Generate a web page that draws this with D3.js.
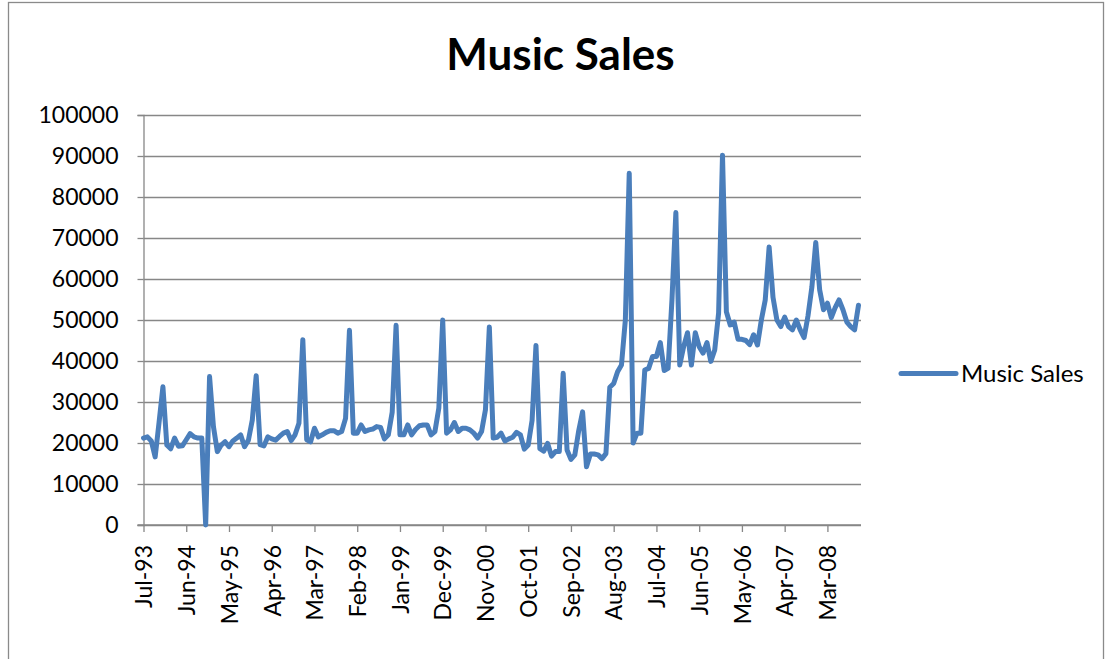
<!DOCTYPE html>
<html>
<head>
<meta charset="utf-8">
<script src="https://cdn.jsdelivr.net/npm/d3@7/dist/d3.min.js"></script>
<style>
  html, body { margin: 0; padding: 0; background: #fff; }
  svg { display: block; font-family: Lato, "Open Sans", sans-serif; }
</style>
</head>
<body>
<svg id="chart" width="1109" height="659"></svg>
<script>
// Monthly music sales, Jul 1993 – Nov 2008
const seriesName = "Music Sales";
const firstMonth = new Date(1993, 6, 1);
const lastMonth = new Date(2008, 10, 1);

const sales = [
  // 1993 (Jul–Dec)
  21200, 21500, 20500, 16600, 25000, 33700,
  // 1994
  19500, 18600, 21200, 19200, 19300, 20800, 22300, 21500, 21200, 21200, 0, 36200,
  // 1995
  24000, 17900, 19500, 20300, 19100, 20500, 21200, 22000, 19100, 20700, 25600, 36400,
  // 1996
  19600, 19300, 21500, 21000, 20700, 21600, 22400, 22800, 20600, 22000, 24800, 45200,
  // 1997
  20800, 20300, 23600, 21500, 22000, 22600, 23000, 23000, 22400, 22800, 26000, 47500,
  // 1998
  22400, 22400, 24400, 22800, 23200, 23400, 24000, 23800, 21000, 22000, 27500, 48700,
  // 1999
  22000, 22000, 24400, 22000, 23300, 24200, 24400, 24400, 22000, 22800, 28500, 50000,
  // 2000
  22400, 23200, 25000, 22800, 23600, 23600, 23200, 22400, 21200, 22800, 28100, 48300,
  // 2001
  21200, 21400, 22400, 20500, 21000, 21400, 22600, 22000, 18500, 19500, 25500, 43800,
  // 2002
  18600, 18000, 19900, 16800, 17900, 17900, 37000, 18300, 16000, 17100, 23000, 27600,
  // 2003
  14200, 17300, 17300, 17100, 16200, 17400, 33600, 34500, 37400, 39000, 50000, 85800,
  // 2004
  20000, 22400, 22400, 37800, 38200, 41100, 41100, 44500, 37700, 38200, 55000, 76200,
  // 2005
  39000, 43500, 46900, 39000, 46900, 43500, 41900, 44500, 39900, 42700, 51700, 90200,
  // 2006
  52000, 48800, 49500, 45300, 45300, 45000, 44000, 46400, 43900, 50000, 54900, 67800,
  // 2007
  55500, 50000, 48400, 50700, 48400, 47600, 50000, 47600, 45700, 51000, 58000, 68900,
  // 2008 (Jan–Nov)
  57400, 52500, 54100, 50600, 53000, 54900, 52500, 49500, 48400, 47600, 53600
];

const xTickLabels = ["Jul-93", "Jun-94", "May-95", "Apr-96", "Mar-97", "Feb-98",
  "Jan-99", "Dec-99", "Nov-00", "Oct-01", "Sep-02", "Aug-03", "Jul-04",
  "Jun-05", "May-06", "Apr-07", "Mar-08"];
const yTickValues = [0, 10000, 20000, 30000, 40000, 50000, 60000, 70000, 80000, 90000, 100000];

// Month categories, one per value
const fmt = d3.timeFormat("%b-%y");
const months = d3.timeMonth.range(firstMonth, d3.timeMonth.offset(lastMonth, 1)).map(fmt);
const data = months.map((m, i) => ({ i, month: m, value: sales[i] }));

const svg = d3.select("#chart");

// Chart area frame
svg.append("rect")
  .attr("x", 8.5).attr("y", 2.5)
  .attr("width", 1095).attr("height", 700)
  .attr("fill", "#fff")
  .attr("stroke", "#8a8a8a")
  .attr("stroke-width", 1.3);

const plot = { left: 143.5, right: 861, top: 115, bottom: 525 };

const x = d3.scaleLinear()
  .domain([0, data.length - 1])
  .range([plot.left, 858.5]);

const y = d3.scaleLinear()
  .domain([0, 100000])
  .range([plot.bottom, plot.top]);

const gridColor = "#878787";
const labelFont = "Lato, 'Open Sans', sans-serif";

// Horizontal gridlines
svg.append("g")
  .attr("transform", `translate(${plot.left},0)`)
  .call(d3.axisLeft(y).tickValues(yTickValues).tickSize(-(plot.right - plot.left)).tickFormat(""))
  .call(g => g.select(".domain").remove())
  .call(g => g.selectAll("line").attr("stroke", gridColor).attr("stroke-width", 1.3));

// Y axis with labels
svg.append("g")
  .attr("transform", `translate(${plot.left},0)`)
  .call(d3.axisLeft(y).tickValues(yTickValues).tickSize(6).tickPadding(19).tickFormat(d3.format("d")))
  .call(g => g.select(".domain").attr("stroke", gridColor).attr("stroke-width", 1.3))
  .call(g => g.selectAll("line").attr("stroke", gridColor).attr("stroke-width", 1.3))
  .call(g => g.selectAll("text")
    .attr("fill", "#000")
    .attr("x", -25)
    .style("font-size", "23px")
    .style("font-family", labelFont));

// X axis with rotated month labels
const tickIdx = xTickLabels.map(l => months.indexOf(l));
svg.append("g")
  .attr("transform", `translate(0,${plot.bottom})`)
  .call(d3.axisBottom(x).tickValues(tickIdx).tickSize(7).tickFormat(i => months[i]))
  .call(g => g.select(".domain").remove())
  .call(g => g.selectAll("line").attr("stroke", gridColor).attr("stroke-width", 1.3))
  .call(g => g.selectAll("text")
    .attr("fill", "#000")
    .attr("transform", "rotate(-90)")
    .attr("text-anchor", "end")
    .attr("dy", "0.36em")
    .attr("x", -20)
    .attr("y", 0)
    .style("font-size", "23px")
    .style("font-family", labelFont));

// Baseline of the x axis
svg.append("line")
  .attr("x1", plot.left - 6).attr("x2", plot.right)
  .attr("y1", plot.bottom).attr("y2", plot.bottom)
  .attr("stroke", gridColor).attr("stroke-width", 1.3);

// Series line
const lineColor = "#4a7ebb";
svg.append("path")
  .datum(data)
  .attr("fill", "none")
  .attr("stroke", lineColor)
  .attr("stroke-width", 5)
  .attr("stroke-linejoin", "round")
  .attr("stroke-linecap", "round")
  .attr("d", d3.line().x(d => x(d.i)).y(d => y(d.value)));

// Title
svg.append("text")
  .attr("x", 560.5).attr("y", 70)
  .attr("text-anchor", "middle")
  .style("font-size", "44px")
  .style("font-weight", "bold")
  .text(seriesName);

// Legend
const legend = svg.append("g").attr("transform", "translate(901,373.5)");
legend.append("line")
  .attr("x1", 0).attr("x2", 55)
  .attr("stroke", lineColor).attr("stroke-width", 5)
  .attr("stroke-linecap", "round");
legend.append("text")
  .attr("x", 60).attr("y", 0)
  .attr("dy", "0.35em")
  .style("font-size", "24px")
  .text(seriesName);
</script>
</body>
</html>
